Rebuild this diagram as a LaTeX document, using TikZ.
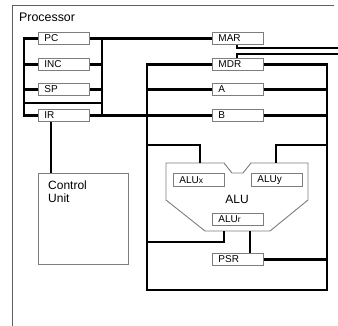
\documentclass[tikz,border=0pt]{standalone}
\usepackage{fontspec}
\setmainfont{Liberation Sans}
\definecolor{edgegray}{RGB}{125,125,125}
\definecolor{framegray}{RGB}{95,95,95}
\tikzset{
  bus/.style={line width=2.8pt, black},
  reg/.style={draw=edgegray, line width=0.9pt, fill=white, minimum width=51pt,
    minimum height=12pt, inner xsep=6pt, inner ysep=0pt, text width=39pt,
    align=left, font=\fontsize{10}{10}\selectfont, anchor=north west},
  outline/.style={draw=edgegray, line width=0.9pt, fill=white},
  frameline/.style={draw=framegray, line width=1pt},
}
\begin{document}
\begin{tikzpicture}[x=1pt,y=-1pt]
\useasboundingbox (0,0) rectangle (338,326);
% outer frame
\draw[frameline] (12,326) -- (12,6) -- (334,6);
\node[anchor=base west, inner sep=0, font=\fontsize{12.4}{14}\selectfont] (proc) at (19,22) {Processor};

% ALU shape
\draw[outline] (166,163) -- (224,163) -- (232,173) -- (243,173) -- (251,163) -- (308,163)
  -- (308,200) -- (270,231) -- (205,231) -- (166,200) -- cycle;
\node[inner sep=0, font=\fontsize{12}{12}\selectfont] (alu) at (237,199) {ALU};

% registers
\node[reg] (pc)  at (38,32)  {PC};
\node[reg] (inc) at (38,58)  {INC};
\node[reg] (sp)  at (38,83)  {SP};
\node[reg] (ir)  at (38,109) {IR};
\node[reg] (mar) at (212,32) {MAR};
\node[reg] (mdr) at (212,58) {MDR};
\node[reg] (a)   at (212,83) {A};
\node[reg] (b)   at (212,109) {B};
\node[reg, minimum height=13pt] (alux) at (173,173) {ALU{\fontsize{8.5}{9}\selectfont x}};
\node[reg, minimum height=13pt] (aluy) at (251,173) {ALUy};
\node[reg] (alur) at (212,213) {ALU{\fontsize{8.5}{9}\selectfont r}};
\node[reg] (psr)  at (212,253) {PSR};

% control unit
\node[outline, minimum width=90pt, minimum height=91pt, anchor=north west, inner sep=0] (cu) at (38,173) {};
\node[anchor=north west, inner sep=0, align=left, font=\fontsize{12}{13}\selectfont] (cutext) at (48,181) {Control\\Unit};

% coordinates
\coordinate (lx) at (24,103);
\coordinate (rx) at (102,103);
\coordinate (mb) at (147,290);
\coordinate (nb) at (327,290);
\coordinate (mx) at (147,145);
\coordinate (nx) at (327,145);
\coordinate (xin) at (200,163);
\coordinate (yin) at (276,163);
\coordinate (aout) at (224,231);
\coordinate (my) at (147,242);
\coordinate (aout2) at (250,231);
\coordinate (mt) at (237,0);
\coordinate (e1) at (338,48);
\coordinate (e2) at (338,54);
\coordinate (ct) at (51,0);

% left cluster buses
\draw[bus] (pc.west) -| (lx) |- (ir.west);
\draw[bus] (inc.west) -- (inc.west -| lx);
\draw[bus] (sp.west) -- (sp.west -| lx);
\draw[bus] (lx) -- (rx);
\draw[bus] (pc.east -| rx) |- (ir.east);
\draw[bus] (inc.east) -- (inc.east -| rx);
\draw[bus] (sp.east) -- (sp.east -| rx);
\draw[bus] (pc.east) -- (mar.west);
\draw[bus] (ir.east) -- (b.west);

% right buses
\draw[bus] (mdr.west) -| (mb) -- (nb) |- (mdr.east);
\draw[bus] (a.west) -- (a.west -| mb);
\draw[bus] (a.east) -- (a.east -| nb);
\draw[bus] (b.east) -- (b.east -| nb);

% ALU connections
\draw[bus] (mx) -| (xin);
\draw[bus] (nx) -| (yin);
\draw[bus] (aout) |- (my);
\draw[bus] (aout2) -- (aout2 |- psr.north);
\draw[bus] (psr.east) -- (psr.east -| nb);

% memory lines
\draw[bus] (mt |- mar.south) |- (e1);
\draw[bus] (mt |- mdr.north) |- (e2);

% IR to control unit
\draw[bus] (ct |- ir.south) -- (ct |- cu.north);
\end{tikzpicture}
\end{document}
